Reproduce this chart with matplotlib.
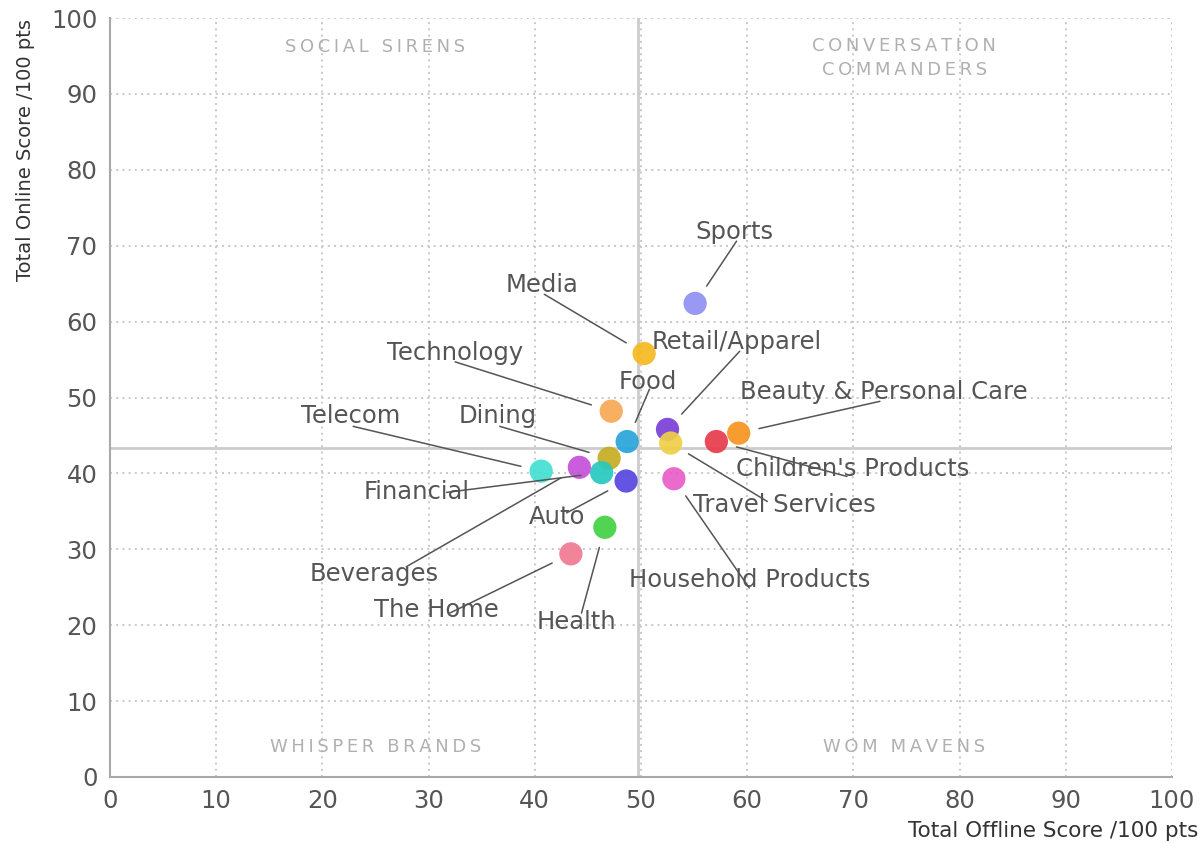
import matplotlib
matplotlib.use("Agg")
import matplotlib.pyplot as plt

# industry categories, offline score (x) and online score (y)
categories = ["Sports", "Media", "Retail/Apparel", "Technology", "Food",
              "Beauty & Personal Care", "Children's Products", "Travel Services",
              "Household Products", "Telecom", "Dining", "Financial", "Auto",
              "Beverages", "The Home", "Health"]
offline = [55.1, 50.3, 52.5, 47.2, 48.7, 59.2, 57.1, 52.8,
           53.1, 40.6, 47.0, 46.3, 48.6, 44.2, 43.4, 46.6]
online = [62.4, 55.8, 45.8, 48.2, 44.2, 45.3, 44.2, 44.0,
          39.3, 40.3, 42.0, 40.1, 39.0, 40.8, 29.4, 32.9]
colors = ["#9090f2", "#f6b921", "#7a3fd8", "#f8a853", "#28a4da",
          "#f6941f", "#e63a4c", "#efcf45", "#e95ec8", "#43e0d2",
          "#c6ad20", "#27c9bf", "#5646e0", "#c64fd8", "#f07a92", "#42d143"]

avg_offline = 49.7
avg_online = 43.4

quadrants = ["SOCIAL SIRENS", "CONVERSATION\nCOMMANDERS", "WHISPER BRANDS", "WOM MAVENS"]

# label text position and the far end of its leader line, per category
label_xy = [(58.8, 71.8), (40.7, 64.8), (59.0, 57.3), (32.5, 55.8), (50.6, 52.1),
            (72.9, 50.7), (69.9, 40.6), (63.5, 35.9), (60.2, 25.9), (22.7, 47.6),
            (36.5, 47.6), (28.9, 37.5), (42.1, 34.3), (24.9, 26.8), (30.7, 22.0),
            (43.9, 20.4)]
line_from = [(59.0, 70.6), (40.9, 63.6), (59.3, 56.1), (32.5, 54.7), (50.8, 51.1),
             (72.5, 49.5), (69.4, 39.6), (61.9, 36.3), (60.2, 24.9), (22.9, 46.2),
             (36.7, 46.2), (31.7, 37.5), (43.0, 34.8), (27.9, 27.7), (32.0, 21.6),
             (44.4, 21.6)]
quad_xy = [(25, 96.2), (74.8, 94.7), (25, 4.0), (74.8, 4.0)]


def spaced(s):
    return "\n".join("\u2009".join(line) for line in s.split("\n"))


fig = plt.figure(figsize=(12.02, 8.43), dpi=100)
ax = fig.add_axes([0.0915, 0.0783, 0.8835, 0.9003])
ax.set_xlim(0, 100)
ax.set_ylim(0, 100)
ax.set_xticks(range(0, 101, 10))
ax.set_yticks(range(0, 101, 10))
ax.tick_params(length=0, labelsize=17.5, labelcolor="#555555")
ax.tick_params(axis="x", pad=9)
ax.tick_params(axis="y", pad=9)
ax.grid(True, color="#c8c8c8", linestyle=(0, (1, 2.2)), linewidth=1.4)
for side in ["top", "right"]:
    ax.spines[side].set_visible(False)
for side in ["left", "bottom"]:
    ax.spines[side].set_color("#a8a8a8")
    ax.spines[side].set_linewidth(1.5)

ax.axhline(avg_online, color="#cccccc", lw=2, zorder=1)
ax.axvline(avg_offline, color="#cccccc", lw=2, zorder=1)

for name, (qx, qy) in zip(quadrants, quad_xy):
    ax.text(qx, qy, spaced(name), ha="center", va="center", fontsize=13,
            color="#b0b0b0", linespacing=1.4)

ax.scatter(offline, online, s=280, c=colors, edgecolors="none", alpha=0.92, zorder=3)

for i, name in enumerate(categories):
    ax.text(label_xy[i][0], label_xy[i][1], name, ha="center", va="center",
            fontsize=17.5, color="#555555", zorder=4)
    ax.annotate("", xy=(offline[i], online[i]), xytext=line_from[i],
                arrowprops=dict(arrowstyle="-", color="#555555", lw=1.1,
                                shrinkA=0, shrinkB=15), zorder=4)

fig.text(0.0208, 0.822, "Total Online Score /100 pts", rotation=90,
         ha="center", va="center", fontsize=14, color="#333333")
fig.text(0.9967, 0.0142, "Total Offline Score /100 pts", ha="right",
         va="center", fontsize=15.5, color="#333333")

fig.savefig("out.png", dpi=100)
